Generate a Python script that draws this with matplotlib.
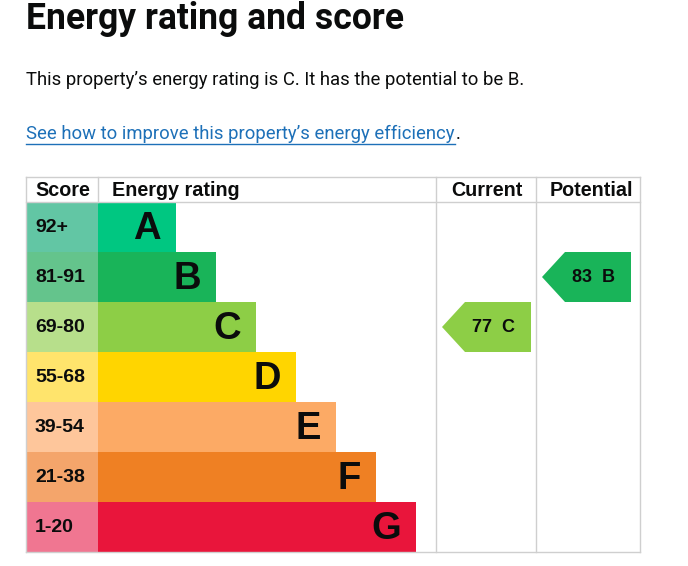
import matplotlib.pyplot as plt
from matplotlib.patches import Rectangle, Polygon

# Rating bands, best first
bands = ['A', 'B', 'C', 'D', 'E', 'F', 'G']
score_ranges = ['92+', '81-91', '69-80', '55-68', '39-54', '21-38', '1-20']
band_floor = [92, 81, 69, 55, 39, 21, 1]
band_colors = ['#00c781', '#19b459', '#8dce46', '#ffd500', '#fcaa65', '#ef8023', '#e9153b']
score_colors = ['#62c6a4', '#64c48c', '#b7df8b', '#ffe46c', '#fec69b', '#f4a56b', '#f07691']

current_score = 77
potential_score = 83

title = 'Energy rating and score'
summary = 'This property\u2019s energy rating is C. It has the potential to be B.'
link_text = 'See how to improve this property\u2019s energy efficiency'


def band_index(score):
    for i, floor in enumerate(band_floor):
        if score >= floor:
            return i
    return len(bands) - 1


fig = plt.figure(figsize=(6.88, 5.66), dpi=100)
ax = fig.add_axes([0, 0, 1, 1])
ax.set_xlim(0, 688)
ax.set_ylim(566, 0)
ax.axis('off')

# Page text
ax.text(26, 19, title, fontsize=25.6, fontweight='bold', family='Roboto',
        va='center', ha='left', color='#0b0c0c')
ax.text(26, 80, summary, fontsize=13.3, family='Roboto', va='center', color='#0b0c0c')
link = ax.text(26, 134, link_text, fontsize=13.3, family='Roboto', va='center', color='#1d70b8')
fig.canvas.draw()
bb = link.get_window_extent().transformed(ax.transData.inverted())
ax.plot([bb.x0, bb.x1], [144, 144], color='#1d70b8', lw=1)
ax.text(bb.x1 + 1, 134, '.', fontsize=13.3, family='Roboto', va='center', color='#0b0c0c')

# Table geometry
left, score_right, cur_left, pot_left, right = 26, 98, 436, 536, 640
top, head_bottom, row_h = 177, 202, 50
bar_step = 40
grid = '#cfcfcf'

hdr_font = dict(fontsize=14.2, fontweight='bold', family='Liberation Sans', va='center', color='#0b0c0c')
ax.text(35, 190, 'Score', ha='left', **hdr_font)
ax.text(112, 190, 'Energy rating', ha='left', **hdr_font)
ax.text((cur_left + pot_left) / 2 + 1, 190, 'Current', ha='center', **hdr_font)
ax.text((pot_left + right) / 2 + 3, 190, 'Potential', ha='center', **hdr_font)

for i, (band, rng) in enumerate(zip(bands, score_ranges)):
    y0 = head_bottom + i * row_h
    ax.add_patch(Rectangle((left, y0), score_right - left, row_h, color=score_colors[i], lw=0))
    bar_end = score_right + bar_step * (i + 2) - 2
    ax.add_patch(Rectangle((score_right, y0), bar_end - score_right, row_h, color=band_colors[i], lw=0))
    ax.text(35, y0 + row_h / 2, rng, fontsize=14, fontweight='bold', family='Liberation Sans',
            va='center', ha='left', color='#0b0c0c')
    ax.text(bar_end - 15, y0 + row_h / 2 + 2, band, fontsize=27.5, fontweight='bold',
            family='Liberation Sans', va='center', ha='right', color='#0b0c0c')

bottom = head_bottom + len(bands) * row_h

# Grid lines
for x in [left, cur_left, pot_left, right]:
    ax.plot([x, x], [top, bottom], color=grid, lw=1)
ax.plot([score_right, score_right], [top, head_bottom], color=grid, lw=1)
for y in [top, head_bottom, bottom]:
    ax.plot([left, right], [y, y], color=grid, lw=1)


def arrow(col_left, score):
    i = band_index(score)
    y0 = head_bottom + i * row_h
    tip = col_left + 6
    shoulder = tip + 23
    end = tip + 89
    ax.add_patch(Polygon([(tip, y0 + row_h / 2), (shoulder, y0), (end, y0),
                          (end, y0 + row_h), (shoulder, y0 + row_h)],
                         closed=True, color=band_colors[i], lw=0))
    ax.text(tip + 52, y0 + row_h / 2 + 1, f'{score}  {bands[i]}', fontsize=13, fontweight='bold',
            family='Liberation Sans', va='center', ha='center', color='#0b0c0c')


arrow(cur_left, current_score)
arrow(pot_left, potential_score)

fig.savefig('out.png', dpi=100)
